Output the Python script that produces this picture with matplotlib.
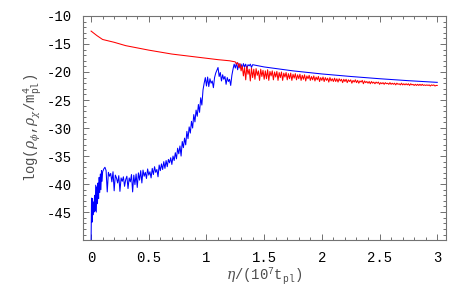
import numpy as np
import matplotlib
matplotlib.use('Agg')
import matplotlib.pyplot as plt
from matplotlib.ticker import MultipleLocator, FuncFormatter

# ---- data ----------------------------------------------------------------
# red: rho_chi (smooth part, then noisy part sampled every 0.01)
red_x_smooth = [0.0, 0.05, 0.1, 0.13, 0.2, 0.3, 0.4, 0.5, 0.6, 0.7, 0.8,
                0.9, 1.0, 1.1, 1.2]
red_y_smooth = [-12.7, -13.5, -14.2, -14.35, -14.7, -15.3, -15.7, -16.1,
                -16.45, -16.8, -17.05, -17.3, -17.55, -17.8, -18.0]
red_y_noisy = [
    -18.2, -18.6, -18.3, -19.2, -18.5, -19.8,
    -18.9, -20.7, -19.2, -21.4, -19.0, -20.4, -19.5, -21.6, -19.3, -21.0,
    -19.5, -21.3, -19.4, -20.6, -19.8, -21.5, -19.5, -20.8, -19.7, -21.3,
    -19.8, -21.2, -19.6, -21.5, -19.9, -20.7, -19.8, -21.4, -20.0, -20.9,
    -19.9, -21.5, -20.1, -21.0, -20.0, -21.5, -20.2, -20.9, -20.1, -21.4,
    -20.3, -21.2, -20.2, -21.5, -20.4, -21.1, -20.3, -21.4, -20.5, -21.2,
    -20.4, -21.5, -20.6, -21.3, -20.5, -21.6, -20.7, -21.2, -20.6, -21.5,
    -20.8, -21.4, -20.7, -21.6, -20.9, -21.4, -20.8, -21.7, -21.0, -21.5,
    -20.9, -21.7, -21.0, -21.5, -21.1, -21.8, -21.0, -21.6, -21.2, -21.7,
    -21.1, -21.7, -21.2, -21.8, -21.2, -21.6, -21.3, -21.9, -21.3, -21.7,
    -21.3, -21.9, -21.4, -21.7, -21.4, -22.0, -21.5, -21.8, -21.4, -21.9,
    -21.5, -22.0, -21.6, -21.8, -21.5, -22.1, -21.6, -21.9, -21.7, -22.0,
    -21.7, -22.1, -21.7, -22.0, -21.8, -22.1, -21.8, -22.0, -21.8, -22.2,
    -21.9, -22.1, -21.9, -22.2, -21.9, -22.1, -22.0, -22.2, -21.9, -22.2,
    -22.0, -22.2, -22.0, -22.3, -22.0, -22.2, -22.1, -22.3, -22.0, -22.3,
    -22.1, -22.3, -22.1, -22.3, -22.1, -22.4, -22.1, -22.3, -22.2, -22.4,
    -22.2, -22.4, -22.2, -22.4, -22.2, -22.4, -22.2, -22.4, -22.3, -22.4,
    -22.3, -22.4, -22.3, -22.5, -22.3, -22.4, -22.3, -22.5, -22.4, -22.4]

# blue: rho_phi (early spiky start, noisy growth every 0.01, smooth tail)
blue_x_start = [0.0, 0.004, 0.008, 0.012, 0.016, 0.02, 0.025, 0.03, 0.035,
                0.04, 0.045, 0.05, 0.055, 0.06, 0.065, 0.07, 0.075, 0.08,
                0.085, 0.09, 0.095, 0.1]
blue_y_start = [-50, -42.5, -46.8, -42.6, -45.5, -43.2, -45.0, -42.0, -44.8,
                -40.2, -45.0, -40.5, -43.5, -39.8, -42.6, -38.8, -41.5, -38.2,
                -41.0, -37.6, -39.5, -37.8]
blue_y_noisy = [
    -37.3, -37.0, -37.6, -41.4, -37.9, -38.6, -38.1, -39.6, -37.8, -41.2,
    -38.4, -38.9, -39.8, -38.5, -41.3, -38.9, -39.5, -38.7, -40.4, -39.2,
    -38.6, -40.8, -38.9, -39.6, -38.3, -41.4, -38.4, -40.1, -38.2, -40.6,
    -38.0, -39.3, -37.6, -39.8, -37.5, -38.6, -37.9, -39.0, -37.3, -38.4,
    -37.8, -38.9, -37.2, -38.3, -36.9, -37.9, -37.4, -38.7, -36.6, -37.6,
    -36.4, -37.4, -36.0, -37.2, -35.8, -36.9, -35.6, -36.2, -35.3, -36.5,
    -35.0, -35.8, -34.4, -35.5, -33.6, -34.6, -33.2, -35.0, -32.4, -33.5,
    -31.8, -33.0, -30.6, -31.9, -29.8, -30.9, -28.8, -30.0, -27.6, -28.9,
    -26.8, -27.9, -25.8, -27.2, -24.6, -25.9, -23.2, -22.0, -21.0, -22.5,
    -20.9, -22.6, -21.2, -22.0, -21.6, -22.8, -21.0, -20.2, -19.7, -19.2,
    -20.8, -20.1, -21.6, -20.5, -21.3, -20.8, -22.2, -21.0, -21.7, -21.3,
    -22.4, -20.6, -19.5, -18.6, -19.3, -18.4, -19.6, -18.5, -19.3, -18.6,
    -19.4, -18.5, -19.1, -18.6, -19.4, -18.7, -18.9, -18.6, -19.2, -18.7]
blue_x_tail = [1.45, 1.5, 1.75, 2.0, 2.25, 2.5, 2.75, 3.0]
blue_y_tail = [-18.9, -19.1, -19.8, -20.35, -20.8, -21.2, -21.55, -21.85]

# sampling grids of the noisy parts
red_x_noisy = np.round(np.arange(1.25, 3.0001, 0.01), 2)[:len(red_y_noisy)]
blue_x_noisy = np.round(np.arange(0.11, 1.4001, 0.01), 2)[:len(blue_y_noisy)]

red_x = np.concatenate([red_x_smooth, red_x_noisy])
red_y = np.concatenate([red_y_smooth, red_y_noisy])
blue_x = np.concatenate([blue_x_start, blue_x_noisy, blue_x_tail])
blue_y = np.concatenate([blue_y_start, blue_y_noisy, blue_y_tail])

x_ticks = [0, 0.5, 1, 1.5, 2, 2.5, 3]
y_ticks = [-45, -40, -35, -30, -25, -20, -15, -10]

# ---- style ---------------------------------------------------------------
plt.rcParams.update({'font.family': ['Liberation Mono', 'DejaVu Sans'],
                     'mathtext.fontset': 'custom',
                     'mathtext.rm': 'Liberation Mono',
                     'mathtext.it': 'DejaVu Serif:italic',
                     'font.size': 10})


def fmt(v, pos):
    if abs(v - round(v)) < 1e-9:
        return str(int(round(v)))
    return f'{v:g}'


fig = plt.figure(figsize=(4.69, 2.90), dpi=100)
ax = fig.add_axes([0.177, 0.172, 0.774, 0.773])

ax.plot(blue_x, blue_y, color='blue', lw=0.75)
ax.plot(red_x, red_y, color='red', lw=0.75)

ax.set_xlim(-0.07, 3.076)
ax.set_ylim(-50, -10)
ax.set_xticks(x_ticks)
ax.set_yticks(y_ticks)
ax.xaxis.set_minor_locator(MultipleLocator(0.1))
ax.yaxis.set_minor_locator(MultipleLocator(1))
ax.xaxis.set_major_formatter(FuncFormatter(fmt))
ax.yaxis.set_major_formatter(FuncFormatter(fmt))
ax.tick_params(which='both', direction='in', top=True, right=True,
               colors='0.35', labelcolor='black', labelsize=10, width=0.6)
ax.tick_params(which='major', length=4, pad=8)
ax.tick_params(which='minor', length=2)
for s in ax.spines.values():
    s.set_color('0.45')
    s.set_linewidth(0.8)

ax.set_xlabel(r'$\eta$/(10$^7$t$_{\rm pl}$)', color='0.3', labelpad=0)
ax.set_ylabel(r'log($\rho_\phi$,$\rho_\chi$/m$_{\rm pl}^4$)', color='0.3',
              labelpad=2)

fig.savefig('out.png', dpi=100)
